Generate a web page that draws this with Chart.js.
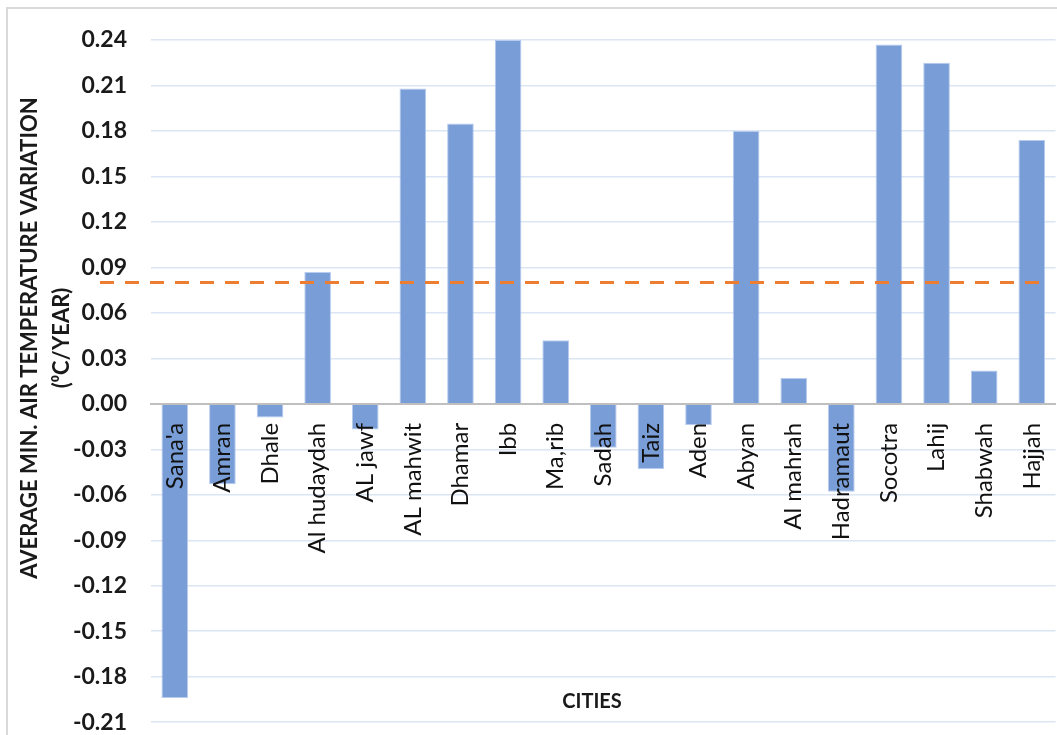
<!DOCTYPE html>
<html>
<head>
<meta charset="utf-8">
<script src="https://cdn.jsdelivr.net/npm/chart.js@4.4.1/dist/chart.umd.min.js"></script>
<style>
html,body{margin:0;padding:0;background:#fff;overflow:hidden;}
#wrap{position:absolute;left:0;top:0;width:1080px;height:760px;}
</style>
</head>
<body>
<div id="wrap"><canvas id="c" width="1080" height="760"></canvas></div>
<script>
// ---- data ----
const cities = ["Sana'a", "Amran", "Dhale", "Al hudaydah", "AL jawf", "AL mahwit", "Dhamar", "Ibb",
  "Ma,rib", "Sadah", "Taiz", "Aden", "Abyan", "Al mahrah", "Hadramaut", "Socotra", "Lahij",
  "Shabwah", "Hajjah"];
const minTempVariation = [-0.194, -0.053, -0.009, 0.087, -0.017, 0.208, 0.185, 0.240,
  0.042, -0.029, -0.043, -0.014, 0.180, 0.017, -0.058, 0.237, 0.225, 0.022, 0.174];
const overallAverage = 0.08;
const yMin = -0.21;
const yMax = 0.24;
const yStep = 0.03;
const yTitleLines = ["AVERAGE MIN. AIR TEMPERATURE VARIATION", "(\u2070C/YEAR)"];
const xTitle = "CITIES";

const FONT = "Lato, 'Open Sans', 'DejaVu Sans', sans-serif";

const framePlugin = {
  id: 'frame',
  beforeDraw(chart) {
    const ctx = chart.ctx;
    ctx.save();
    ctx.fillStyle = '#ffffff';
    ctx.fillRect(0, 0, chart.width, chart.height);
    ctx.strokeStyle = '#d9d9d9';
    ctx.lineWidth = 2;
    ctx.beginPath();
    ctx.moveTo(7, chart.height + 5);
    ctx.lineTo(7, 8);
    ctx.lineTo(chart.width + 5, 8);
    ctx.stroke();
    ctx.restore();
  }
};

const avgLinePlugin = {
  id: 'avgLine',
  afterDatasetsDraw(chart) {
    const ctx = chart.ctx;
    const area = chart.chartArea;
    const y = chart.scales.y.getPixelForValue(overallAverage);
    ctx.save();
    ctx.strokeStyle = '#ed7d31';
    ctx.lineWidth = 3;
    ctx.setLineDash([14, 11]);
    ctx.beginPath();
    ctx.moveTo(area.left - 51, y);
    ctx.lineTo(area.right - 14, y);
    ctx.stroke();
    ctx.restore();
  }
};

const titlesPlugin = {
  id: 'titles',
  afterDraw(chart) {
    const ctx = chart.ctx;
    const area = chart.chartArea;
    ctx.save();
    ctx.fillStyle = '#1a1a1a';
    // x title
    ctx.font = "bold 20px " + FONT;
    ctx.textAlign = 'center';
    ctx.textBaseline = 'middle';
    ctx.fillText(xTitle, area.left + 441, area.bottom - 21);
    // y title (rotated)
    ctx.font = "bold 22px " + FONT;
    ctx.translate(30, 338);
    ctx.rotate(-Math.PI / 2);
    yTitleLines.forEach((t, i) => ctx.fillText(t, 0, i * 32));
    ctx.restore();
  }
};

new Chart(document.getElementById('c'), {
  type: 'bar',
  data: {
    labels: cities,
    datasets: [{
      data: minTempVariation,
      backgroundColor: '#799dd7',
      borderColor: 'rgba(175,198,236,0.9)',
      borderWidth: 1,
      barPercentage: 0.56,
      categoryPercentage: 1.0
    }]
  },
  options: {
    responsive: false,
    animation: false,
    devicePixelRatio: 1,
    layout: { padding: { top: 40, right: 16, bottom: 13, left: 0 } },
    plugins: { legend: { display: false }, tooltip: { enabled: false }, title: { display: false } },
    scales: {
      x: {
        type: 'category',
        position: { y: 0 },
        grid: { display: false, drawTicks: false },
        border: { display: true, color: '#bfbfbf', width: 2, z: 1 },
        ticks: {
          z: 1,
          autoSkip: false,
          minRotation: 90,
          maxRotation: 90,
          padding: 19,
          color: '#111',
          font: { family: FONT, size: 24 }
        },
        afterFit(s) { s.height = 0; }
      },
      y: {
        min: yMin,
        max: yMax,
        grid: { color: '#dce5f4', lineWidth: 1.5, drawTicks: false },
        border: { display: false },
        ticks: {
          stepSize: yStep,
          padding: 24,
          color: '#1a1a1a',
          font: { family: FONT, size: 23, weight: 'bold' },
          callback: v => (Math.abs(v) < 1e-9 ? 0 : Number(v)).toFixed(2)
        },
        afterFit(s) { s.width = 151; }
      }
    }
  },
  plugins: [framePlugin, avgLinePlugin, titlesPlugin]
});
</script>
</body>
</html>
